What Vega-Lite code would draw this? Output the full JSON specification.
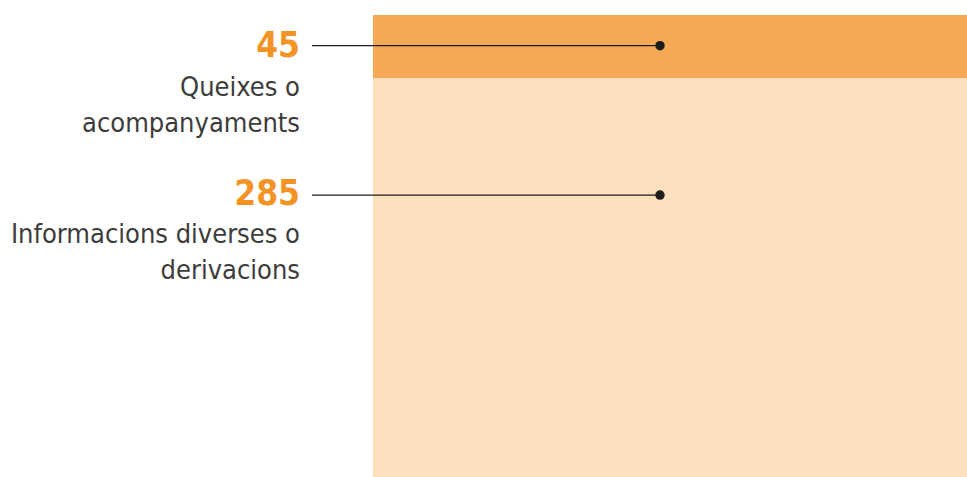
{
  "$schema": "https://vega.github.io/schema/vega-lite/v6.json",
  "width": 967,
  "height": 477,
  "autosize": {"type": "fit", "contains": "padding"},
  "padding": 0,
  "background": "white",
  "config": {"view": {"stroke": null}},
  "data": {"values": [
    {"category": "Queixes o acompanyaments", "label": "Queixes o\nacompanyaments", "value": 45},
    {"category": "Informacions diverses o derivacions", "label": "Informacions diverses o\nderivacions", "value": 285}
  ]},
  "layer": [
    {
      "transform": [{"stack": "value", "groupby": [], "sort": [{"field": "value", "order": "descending"}], "as": ["v0", "v1"]}],
      "mark": {"type": "bar"},
      "encoding": {
        "x": {"datum": 0.3857, "type": "quantitative", "scale": {"domain": [0, 1]}, "axis": null},
        "x2": {"datum": 1},
        "y": {"field": "v0", "type": "quantitative", "scale": {"domain": [0, 340.7], "nice": false, "zero": true}, "axis": null},
        "y2": {"field": "v1"},
        "color": {"field": "category", "type": "nominal", "legend": null,
          "scale": {"domain": ["Queixes o acompanyaments", "Informacions diverses o derivacions"], "range": ["#F5A855", "#FCDFBD"]}}
      }
    },
    {
      "transform": [{"filter": "datum.value == 45"}],
      "layer": [
        {"mark": {"type": "rule", "color": "#1d1d1b", "strokeWidth": 1.2},
         "encoding": {"x": {"datum": 0.3226}, "x2": {"datum": 0.6825}, "y": {"datum": 308.1}}},
        {"mark": {"type": "point", "filled": true, "color": "#1d1d1b", "opacity": 1, "size": 90},
         "encoding": {"x": {"datum": 0.6825}, "y": {"datum": 308.1}}},
        {"mark": {"type": "text", "align": "right", "baseline": "alphabetic", "font": "DejaVu Sans Condensed, sans-serif", "fontWeight": "bold", "fontSize": 35, "color": "#F39325"},
         "encoding": {"x": {"datum": 0.3102}, "y": {"datum": 300.0}, "text": {"field": "value"}}},
        {"mark": {"type": "text", "align": "right", "baseline": "alphabetic", "font": "DejaVu Sans Condensed, sans-serif", "fontSize": 27, "lineHeight": 36, "lineBreak": "\n", "color": "#3c3c3b"},
         "encoding": {"x": {"datum": 0.3102}, "y": {"datum": 272.1}, "text": {"field": "label"}}}
      ]
    },
    {
      "transform": [{"filter": "datum.value == 285"}],
      "layer": [
        {"mark": {"type": "rule", "color": "#1d1d1b", "strokeWidth": 1.2},
         "encoding": {"x": {"datum": 0.3226}, "x2": {"datum": 0.6825}, "y": {"datum": 201.4}}},
        {"mark": {"type": "point", "filled": true, "color": "#1d1d1b", "opacity": 1, "size": 90},
         "encoding": {"x": {"datum": 0.6825}, "y": {"datum": 201.4}}},
        {"mark": {"type": "text", "align": "right", "baseline": "alphabetic", "font": "DejaVu Sans Condensed, sans-serif", "fontWeight": "bold", "fontSize": 35, "color": "#F39325"},
         "encoding": {"x": {"datum": 0.3102}, "y": {"datum": 194.3}, "text": {"field": "value"}}},
        {"mark": {"type": "text", "align": "right", "baseline": "alphabetic", "font": "DejaVu Sans Condensed, sans-serif", "fontSize": 27, "lineHeight": 36, "lineBreak": "\n", "color": "#3c3c3b"},
         "encoding": {"x": {"datum": 0.3102}, "y": {"datum": 167.1}, "text": {"field": "label"}}}
      ]
    }
  ]
}
